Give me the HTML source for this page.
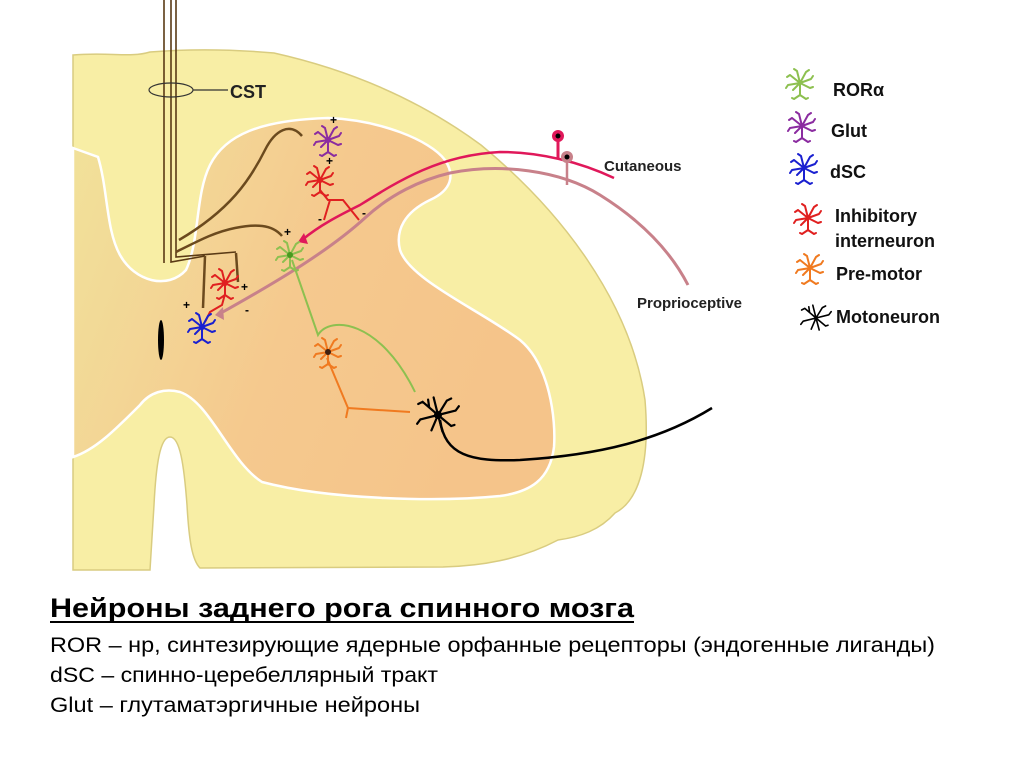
<!DOCTYPE html>
<html><head><meta charset="utf-8"><style>
html,body{margin:0;padding:0;background:#fff;width:1024px;height:767px;overflow:hidden}
svg{display:block}
text{font-family:"Liberation Sans",sans-serif}
</style></head><body>
<svg width="1024" height="767" viewBox="0 0 1024 767" xmlns="http://www.w3.org/2000/svg">
<defs>
<linearGradient id="gm" x1="0" y1="0" x2="1" y2="0.3">
<stop offset="0" stop-color="#f1e29a"/><stop offset="0.3" stop-color="#f3d595"/><stop offset="0.55" stop-color="#f5c98e"/><stop offset="1" stop-color="#f5c48a"/>
</linearGradient>
<g id="nr" fill="none" stroke-width="2" stroke-linecap="round">
<path d="M0 0L-10 -8M-10 -8L-13 -6M0 0L-3 -12M-3 -12L-6 -14M0 0L6 -11M6 -11L9 -13M0 0L11 -4M11 -4L13 -7M0 0L-12 2M-12 2L-14 5M0 0L10 5M10 5L13 4M0 0L-7 7M0 0L0 12M0 12L-6 16M0 12L6 16M-6 16L-8 15M6 16L8 15"/>
</g>
<g id="mn" fill="none" stroke="#000" stroke-width="2" stroke-linecap="round">
<path d="M0 0L-14 -12M-14 -12L-18 -10M-8 -7L-9 -14M0 0L-4 -16M0 0L8 -13M8 -13L12 -15M0 0L16 -4M16 -4L19 -8M0 0L-16 4M-16 4L-19 8M0 0L12 10M12 10L15 9M0 0L-6 14M0 0L4 15"/>
</g>
</defs>

<!-- white matter outer -->
<path d="M73 55 C110 52 130 58 150 52 C200 48 240 50 274 53 C350 70 420 100 481 145 C560 210 630 300 645 400 C650 460 640 500 615 513 C600 530 580 537 558 540 C520 560 480 566 443 567 L200 568 C192 560 189 540 187 505 C184 465 180 437 170 437 C160 437 156 465 154 505 L150 570 L73 570 Z" fill="#f8eea5" stroke="#d9cc80" stroke-width="1.5"/>
<!-- gray matter -->
<path d="M73 148 L98 157 C108 190 106 230 120 255 C135 282 168 290 186 270 C200 240 195 195 210 165 C225 135 260 120 328 118 C380 120 430 140 445 160 C455 175 452 190 430 200 C405 212 395 230 400 250 C410 280 480 310 520 340 C550 365 556 420 554 447 C550 480 530 492 500 496 C440 502 330 500 262 482 C230 462 210 402 180 392 C165 388 150 392 140 405 C115 430 95 450 73 457 Z" fill="url(#gm)" stroke="#fff" stroke-width="2.5"/>

<!-- CST -->
<g stroke="#5a3a15" stroke-width="1.6" fill="none">
<path d="M164 0 L164 263"/>
<path d="M171 0 L171 262 L205 256"/>
<path d="M176 0 L176 257 L236 252"/>
</g>
<ellipse cx="171" cy="90" rx="22" ry="7" fill="none" stroke="#333" stroke-width="1.2"/>
<line x1="193" y1="90" x2="228" y2="90" stroke="#333" stroke-width="1.2"/>
<text x="230" y="98" font-size="18" font-weight="bold" fill="#222">CST</text>

<g stroke="#6b4a1e" stroke-width="2.5" fill="none">
<path d="M179 240 C230 210 250 180 265 150 C275 130 290 122 302 136"/>
<path d="M176 252 C200 240 215 232 235 228 C255 224 272 224 282 236"/>
<path d="M205 256 L203 308"/>
<path d="M236 253 L238 282"/>
</g>

<!-- Cutaneous -->
<path d="M302 240 C320 225 340 215 360 205 C400 180 440 155 500 152 C540 152 580 162 614 178" fill="none" stroke="#e0185a" stroke-width="2.5"/>
<path d="M298 242 L304 233 L308 244 Z" fill="#e0185a"/>
<line x1="558" y1="158" x2="558" y2="140" stroke="#e0185a" stroke-width="3"/>
<circle cx="558" cy="136" r="6" fill="#e0185a"/><circle cx="558" cy="136" r="2.5" fill="#000"/>
<text x="604" y="171" font-size="15" font-weight="bold" fill="#222">Cutaneous</text>

<!-- Proprioceptive -->
<path d="M221 313 C280 280 330 250 366 217 C390 195 420 180 450 173 C500 163 560 170 600 195 C640 220 670 250 688 285" fill="none" stroke="#c8818a" stroke-width="3"/>
<path d="M215 315 L223 307 L224 320 Z" fill="#c8818a"/>
<line x1="567" y1="185" x2="567" y2="162" stroke="#c8818a" stroke-width="2.5"/>
<circle cx="567" cy="157" r="6" fill="#c8818a"/><circle cx="567" cy="157" r="2.5" fill="#000"/>
<text x="637" y="308" font-size="15" font-weight="bold" fill="#222">Proprioceptive</text>

<!-- green axon -->
<path d="M292 260 L318 335 C330 315 380 320 415 392" fill="none" stroke="#8dc050" stroke-width="2"/>
<!-- orange axon -->
<path d="M327 358 L348 408 L410 412" fill="none" stroke="#f07a20" stroke-width="2"/>
<path d="M348 408 L346 418" fill="none" stroke="#f07a20" stroke-width="2"/>
<!-- red inhibitory axon -->
<path d="M320 190 L328 200 L343 200 L359 220 M330 200 L324 220" fill="none" stroke="#e02020" stroke-width="2"/>
<path d="M225 294 L222 305 L210 312 L205 322" fill="none" stroke="#e02020" stroke-width="2"/>
<!-- motor axon -->
<path d="M440 420 C445 455 470 462 520 460 C600 455 660 440 712 408" fill="none" stroke="#000" stroke-width="2.5"/>

<!-- neurons -->
<use href="#nr" x="328" y="140" stroke="#8b2ca0"/>
<use href="#nr" x="320" y="180" stroke="#e02020"/>
<use href="#nr" x="290" y="255" stroke="#8dc050"/>
<use href="#nr" x="225" y="283" stroke="#e02020"/>
<use href="#nr" x="202" y="327" stroke="#1a20d0"/>
<use href="#nr" x="328" y="352" stroke="#f07a20"/>
<use href="#mn" transform="translate(438 415) scale(1.1)"/>
<circle cx="328" cy="140" r="3" fill="#8b2ca0"/><circle cx="320" cy="180" r="3" fill="#e02020"/>
<circle cx="290" cy="255" r="3" fill="#4a9a20"/><circle cx="225" cy="283" r="3" fill="#e02020"/>
<circle cx="202" cy="327" r="3" fill="#1a20d0"/><circle cx="328" cy="352" r="3" fill="#402010"/>
<circle cx="438" cy="415" r="4" fill="#000"/>

<ellipse cx="161" cy="340" rx="3" ry="20" fill="#000"/>

<g font-size="12" font-weight="bold" fill="#000">
<text x="330" y="124">+</text><text x="326" y="165">+</text>
<text x="284" y="236">+</text><text x="241" y="291">+</text><text x="183" y="309">+</text>
<text x="318" y="223">-</text><text x="362" y="217">-</text><text x="245" y="314">-</text>
</g>

<!-- legend -->
<use href="#nr" x="800" y="83" stroke="#8dc050"/>
<use href="#nr" x="802" y="126" stroke="#8b2ca0"/>
<use href="#nr" x="804" y="168" stroke="#1a20d0"/>
<use href="#nr" x="808" y="218" stroke="#e02020"/>
<use href="#nr" x="810" y="268" stroke="#f07a20"/>
<use href="#mn" transform="translate(816 318) scale(0.8)"/>
<g font-size="18" font-weight="bold" fill="#111">
<text x="833" y="96">ROR&#945;</text>
<text x="831" y="137">Glut</text>
<text x="830" y="178">dSC</text>
<text x="835" y="222">Inhibitory</text>
<text x="835" y="247">interneuron</text>
<text x="836" y="280">Pre-motor</text>
<text x="836" y="323">Motoneuron</text>
</g>

<!-- caption -->
<text x="50" y="617" font-size="27" font-weight="bold" fill="#000" textLength="584" lengthAdjust="spacingAndGlyphs">Нейроны заднего рога спинного мозга</text>
<line x1="50" y1="622" x2="634" y2="622" stroke="#000" stroke-width="2"/>
<g font-size="21" fill="#000">
<text x="50" y="652" textLength="885" lengthAdjust="spacingAndGlyphs">ROR – нр, синтезирующие ядерные орфанные рецепторы (эндогенные лиганды)</text>
<text x="50" y="682" textLength="388" lengthAdjust="spacingAndGlyphs">dSC – спинно-церебеллярный тракт</text>
<text x="50" y="712" textLength="370" lengthAdjust="spacingAndGlyphs">Glut – глутаматэргичные нейроны</text>
</g>
</svg>
</body></html>
